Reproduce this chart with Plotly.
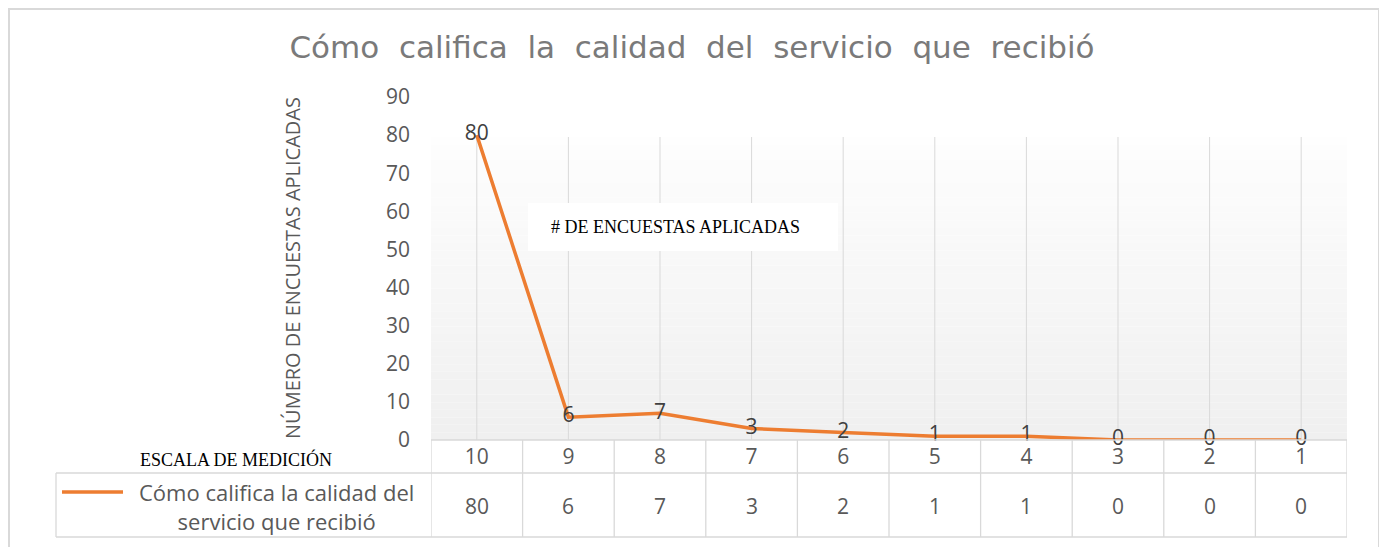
import plotly.graph_objects as go

# data
escala = ["10", "9", "8", "7", "6", "5", "4", "3", "2", "1"]
encuestas = [80, 6, 7, 3, 2, 1, 1, 0, 0, 0]
serie = "Cómo califica la calidad del servicio que recibió"
titulo = "Cómo  califica  la  calidad  del  servicio  que  recibió"
y_ticks = [0, 10, 20, 30, 40, 50, 60, 70, 80, 90]

# the page puts the figure 8px in from the window corner
W, H = 1379, 539
L, R, T, B = 423, 40, 89, 107
PW, PH = W - L - R, H - T - B

GRAY = "#595959"
GRID = "#d9d9d9"
ORANGE = "#ED7D31"
FONT = "Open Sans"


def px_x(p):
    """Window pixel x to paper x."""
    return (p - 8 - L) / PW


def px_y(p):
    """Window pixel y to paper y."""
    return (H - B - (p - 8)) / PH


fig = go.Figure()
fig.add_trace(
    go.Scatter(
        x=escala,
        y=encuestas,
        name=serie,
        mode="lines+text",
        text=[str(v) for v in encuestas],
        textposition="middle center",
        textfont=dict(family=FONT, size=21, color="#404040"),
        line=dict(color=ORANGE, width=3.5),
        cliponaxis=False,
        showlegend=False,
    )
)

shapes = []
# gradient plot background (Excel style)
top = px_y(137)
steps = 40
for i in range(steps):
    c = int(240 + (254 - 240) * i / (steps - 1))
    shapes.append(
        dict(
            type="rect", xref="paper", yref="paper", layer="below",
            x0=0, x1=1, y0=top * i / steps, y1=top * (i + 1) / steps,
            fillcolor=f"rgb({c},{c},{c})", line=dict(width=0),
        )
    )
# vertical gridlines at each category
for i in range(len(escala)):
    shapes.append(
        dict(
            type="line", xref="x", yref="paper", layer="below",
            x0=i, x1=i, y0=0, y1=top, line=dict(color=GRID, width=1),
        )
    )

# data table below the plot
n = len(escala)
row0, row1, row2 = px_y(440), px_y(473), px_y(537)
left = px_x(56)
tline = dict(color=GRID, width=1.3)
shapes.append(dict(type="line", xref="paper", yref="paper", x0=0, x1=1, y0=row0, y1=row0, line=tline))
for yy in (row1, row2):
    shapes.append(dict(type="line", xref="paper", yref="paper", x0=left, x1=1, y0=yy, y1=yy, line=tline))
shapes.append(dict(type="line", xref="paper", yref="paper", x0=left, x1=left, y0=row1, y1=row2, line=tline))
for i in range(n + 1):
    shapes.append(
        dict(type="line", xref="x", yref="paper", x0=i - 0.5, x1=i - 0.5, y0=row0, y1=row2, line=tline)
    )
# legend key
shapes.append(
    dict(type="line", xref="paper", yref="paper", x0=px_x(62), x1=px_x(123),
         y0=px_y(492), y1=px_y(492), line=dict(color=ORANGE, width=3.5))
)
# text box
shapes.append(
    dict(type="rect", xref="paper", yref="paper", x0=px_x(528), x1=px_x(838),
         y0=px_y(251), y1=px_y(203), fillcolor="white", line=dict(width=0))
)
# outer frame
shapes.append(
    dict(type="rect", xref="paper", yref="paper", x0=px_x(9), x1=px_x(1379),
         y0=px_y(552), y1=px_y(9), line=dict(color=GRID, width=2))
)

annotations = []
for i, val in enumerate(encuestas):
    annotations.append(dict(x=i, y=px_y(506), xref="x", yref="paper", text=str(val), showarrow=False,
                            xanchor="center", yanchor="middle",
                            font=dict(family=FONT, size=21, color=GRAY)))
annotations += [
    dict(x=px_x(276), y=px_y(506), xref="paper", yref="paper", showarrow=False,
         xanchor="center", yanchor="middle",
         text="Cómo califica la calidad del<br>servicio que recibió", align="center",
         font=dict(family=FONT, size=22, color=GRAY)),
    dict(x=px_x(236), y=px_y(459), xref="paper", yref="paper", showarrow=False,
         xanchor="center", yanchor="middle",
         text="ESCALA DE MEDICIÓN", font=dict(family="Liberation Serif", size=18, color="black")),
    dict(x=px_x(549), y=px_y(227), xref="paper", yref="paper", showarrow=False,
         xanchor="left", yanchor="middle",
         text="# DE ENCUESTAS APLICADAS", font=dict(family="Liberation Serif", size=18, color="black")),
    dict(x=px_x(292), y=px_y(268), xref="paper", yref="paper", showarrow=False, textangle=-90,
         xanchor="center", yanchor="middle", text="NÚMERO DE ENCUESTAS APLICADAS",
         font=dict(family=FONT, size=20, color=GRAY)),
]

fig.update_layout(
    width=W, height=H,
    margin=dict(l=L, r=R, t=T, b=B),
    paper_bgcolor="white",
    plot_bgcolor="rgba(0,0,0,0)",
    title=dict(text=titulo, x=(692 - 8) / W, xref="container", xanchor="center",
               y=1 - (47 - 8) / H, yref="container", yanchor="middle",
               font=dict(family="DejaVu Sans", size=31, color="#7a7a7a")),
    xaxis=dict(type="category", range=[-0.5, n - 0.5], showgrid=False, zeroline=False, showline=False,
               ticks="", ticklabelstandoff=2, tickfont=dict(family=FONT, size=21, color=GRAY)),
    yaxis=dict(range=[0, 90], tickvals=y_ticks, showgrid=False, zeroline=False, showline=False,
               ticks="", ticklabelstandoff=20, tickfont=dict(family=FONT, size=21, color=GRAY)),
    shapes=shapes,
    annotations=annotations,
)

fig.write_html("out.html")
